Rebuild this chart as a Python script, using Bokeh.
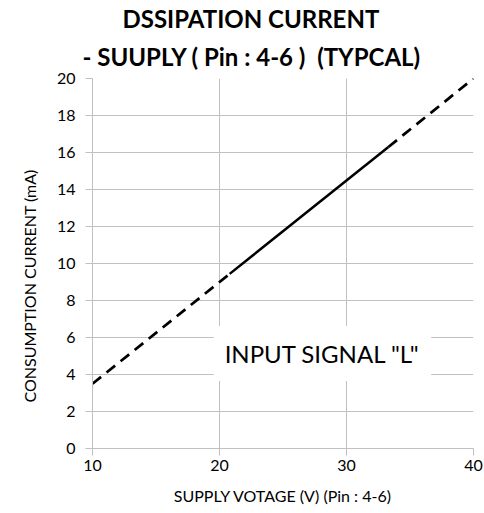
from bokeh.plotting import figure
from bokeh.models import Range1d, Title, Label, FixedTicker
from bokeh.embed import file_html
from bokeh.resources import INLINE

# Data
volt_low = [10, 20.8]
curr_low = [3.5, 9.44]
volt_mid = [20.8, 33.3]
curr_mid = [9.44, 16.3]
volt_high = [33.3, 40]
curr_high = [16.3, 20.0]
x_ticks = [10, 20, 30, 40]
y_ticks = [0, 2, 4, 6, 8, 10, 12, 14, 16, 18, 20]

FONT = "Lato"
GRID = "#c0c0c0"

p = figure(width=484, height=513, output_backend="svg", toolbar_location=None,
           x_range=Range1d(10, 40), y_range=Range1d(0, 20),
           min_border_left=92, min_border_right=11, min_border_top=78, min_border_bottom=65)
p.title = None
p.outline_line_color = None
p.background_fill_color = "white"
p.border_fill_color = "white"

t2 = Title(text="- SUUPLY ( Pin : 4-6 )\u00a0\u00a0(TYPCAL)", align="left", text_font=FONT,
           text_font_size="24px", text_font_style="bold", text_color="#000000",
           offset=-10, standoff=15)
t1 = Title(text="DSSIPATION CURRENT", align="left", text_font=FONT,
           text_font_size="24px", text_font_style="bold", text_color="#000000",
           offset=30, standoff=0)
p.add_layout(t2, "above")
p.add_layout(t1, "above")

# y-axis title as a side title so it can sit lower than the frame centre, as in the reference
ytitle = Title(text="CONSUMPTION CURRENT (mA)", align="left", text_font=FONT,
               text_font_size="16px", text_font_style="normal", text_color="#000000",
               offset=46, standoff=30)
p.add_layout(ytitle, "left")

p.line(volt_low, curr_low, line_color="black", line_width=2.75, line_dash="11 7")
p.line(volt_mid, curr_mid, line_color="black", line_width=2.5)
p.line(volt_high, curr_high, line_color="black", line_width=2.75, line_dash="11 7")

lab = Label(x=28.1, y=5.14, text='INPUT SIGNAL "L"', text_align="center", text_baseline="middle",
            text_font=FONT, text_font_size="24px", text_color="#000000",
            background_fill_color="white", background_fill_alpha=1.0,
            padding=dict(left=11, right=11, top=13, bottom=13))
p.add_layout(lab)

p.xaxis.ticker = FixedTicker(ticks=x_ticks)
p.yaxis.ticker = FixedTicker(ticks=y_ticks)
p.xgrid.ticker = FixedTicker(ticks=x_ticks)
p.ygrid.ticker = FixedTicker(ticks=y_ticks)
p.grid.grid_line_color = GRID
p.grid.grid_line_width = 1

for ax in (p.xaxis, p.yaxis):
    ax.axis_line_color = GRID
    ax.major_tick_line_color = GRID
    ax.minor_tick_line_color = None
    ax.major_tick_in = 0
    ax.major_tick_out = 7
    ax.major_label_text_font = FONT
    ax.major_label_text_font_size = "16px"
    ax.major_label_text_color = "#000000"
    ax.axis_label_text_font = FONT
    ax.axis_label_text_font_size = "16px"
    ax.axis_label_text_font_style = "normal"
    ax.axis_label_text_color = "#000000"

p.xaxis.axis_label = "SUPPLY VOTAGE (V) (Pin : 4-6)"
p.xaxis.major_label_standoff = 4
p.xaxis.axis_label_standoff = 12
p.yaxis.major_label_standoff = 10

open("out.html", "w").write(file_html(p, INLINE))
